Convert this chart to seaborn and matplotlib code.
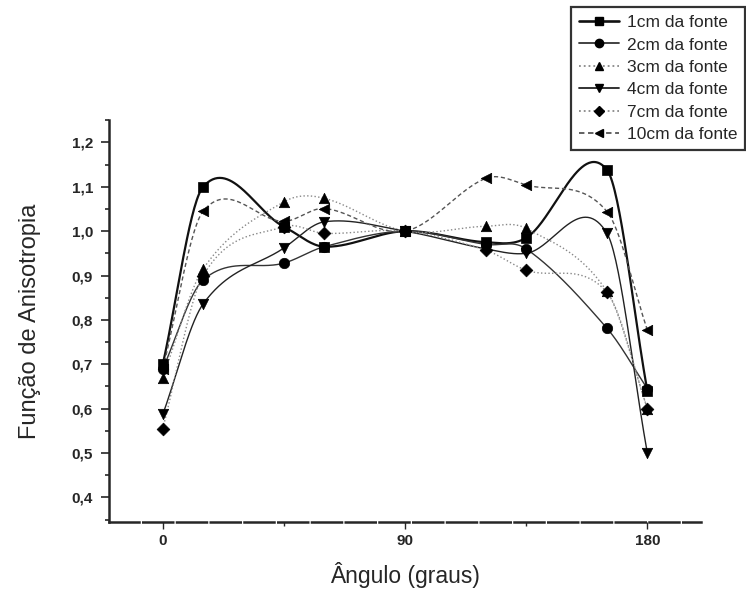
import numpy as np
import pandas as pd
import matplotlib
matplotlib.use("Agg")
import matplotlib.pyplot as plt
import seaborn as sns
from matplotlib.ticker import FuncFormatter, MultipleLocator, FixedLocator
from matplotlib.lines import Line2D

# ---- data ----
angles = [0, 15, 45, 60, 90, 120, 135, 165, 180]
labels = ["1cm da fonte", "2cm da fonte", "3cm da fonte",
          "4cm da fonte", "7cm da fonte", "10cm da fonte"]
f_1cm = [0.70, 1.10, 1.01, 0.965, 1.00, 0.975, 0.985, 1.138, 0.64]
f_2cm = [0.69, 0.89, 0.928, 0.965, 1.00, 0.97, 0.96, 0.781, 0.645]
f_3cm = [0.67, 0.915, 1.066, 1.074, 1.00, 1.011, 1.006, 0.864, 0.60]
f_4cm = [0.587, 0.836, 0.962, 1.021, 1.00, 0.96, 0.95, 0.995, 0.50]
f_7cm = [0.555, 0.90, 1.01, 0.995, 1.00, 0.957, 0.912, 0.862, 0.60]
f_10cm = [0.69, 1.045, 1.022, 1.051, 1.00, 1.119, 1.104, 1.044, 0.777]
series = [f_1cm, f_2cm, f_3cm, f_4cm, f_7cm, f_10cm]

markers = ["s", "o", "^", "v", "D", "<"]
msizes = [7.5, 7.5, 7.5, 7.5, 6.5, 7.5]
colors = ["#111111", "#333333", "#888888", "#222222", "#888888", "#555555"]
lstyles = ["-", "-", ":", "-", ":", (0, (3, 2))]
lwidths = [1.6, 1.0, 1.0, 1.0, 1.0, 1.0]


def smooth_curve(x, y, num=400):
    """Cubic Hermite (Catmull-Rom style) curve through the data points."""
    x = np.asarray(x, float)
    y = np.asarray(y, float)
    n = len(x)
    m = np.zeros(n)
    m[0] = (y[1] - y[0]) / (x[1] - x[0])
    m[-1] = (y[-1] - y[-2]) / (x[-1] - x[-2])
    m[1:-1] = (y[2:] - y[:-2]) / (x[2:] - x[:-2])
    xs = np.linspace(x[0], x[-1], num)
    idx = np.clip(np.searchsorted(x, xs) - 1, 0, n - 2)
    h = x[idx + 1] - x[idx]
    t = (xs - x[idx]) / h
    h00 = 2 * t ** 3 - 3 * t ** 2 + 1
    h10 = t ** 3 - 2 * t ** 2 + t
    h01 = -2 * t ** 3 + 3 * t ** 2
    h11 = t ** 3 - t ** 2
    ys = h00 * y[idx] + h10 * h * m[idx] + h01 * y[idx + 1] + h11 * h * m[idx + 1]
    return xs, ys


sns.set_style("ticks")
plt.rcParams["font.family"] = ["Liberation Sans", "DejaVu Sans"]

fig = plt.figure(figsize=(7.46, 5.95), dpi=100)
ax = fig.add_axes([0.146, 0.123, 0.794, 0.675])

handles = []
for lab, vals, mk, ms, c, ls, lw in zip(labels, series, markers, msizes, colors, lstyles, lwidths):
    xs, ys = smooth_curve(angles, vals)
    curve = pd.DataFrame({"x": xs, "y": ys})
    sns.lineplot(data=curve, x="x", y="y", ax=ax, color=c, linestyle=ls,
                 linewidth=lw, estimator=None, sort=False)
    pts = pd.DataFrame({"x": angles, "y": vals})
    sns.scatterplot(data=pts, x="x", y="y", ax=ax, marker=mk, s=ms ** 2,
                    color="black", edgecolor="black", linewidth=0.5, zorder=5)
    handles.append(Line2D([], [], color=c, linestyle=ls, linewidth=lw + 0.3,
                          marker=mk, markersize=ms - 1.5, markerfacecolor="black",
                          markeredgecolor="black", label=lab))

ax.set_xlim(-20, 200)
ax.set_ylim(0.345, 1.25)
ax.xaxis.set_major_locator(FixedLocator([0, 90, 180]))
ax.xaxis.set_minor_locator(FixedLocator([45, 135]))
ax.yaxis.set_major_locator(MultipleLocator(0.1))
ax.yaxis.set_minor_locator(MultipleLocator(0.05))
ax.yaxis.set_major_formatter(FuncFormatter(lambda v, p: f"{v:.1f}".replace(".", ",")))
ax.xaxis.set_major_formatter(FuncFormatter(lambda v, p: f"{v:.0f}"))

ax.tick_params(axis="y", which="major", length=5.5, width=1.2, labelsize=11,
               direction="out", pad=6)
ax.tick_params(axis="y", which="minor", length=3, width=1.2, direction="out")
ax.tick_params(axis="x", which="major", length=5, width=1, labelsize=11, direction="out")
ax.tick_params(axis="x", which="minor", length=3, width=1, direction="out")
for t in ax.get_yticklabels() + ax.get_xticklabels():
    t.set_fontweight("bold")

sns.despine(ax=ax, top=True, right=True)
ax.spines["left"].set_linewidth(1.8)
ax.spines["bottom"].set_linewidth(1.8)
ax.spines["bottom"].set_linestyle((0, (12, 1.5)))

ax.set_xlabel("Ângulo (graus)", fontsize=16.5, labelpad=10)
ax.set_ylabel("Função de Anisotropia", fontsize=17, labelpad=22)

leg = fig.legend(handles=handles, loc="upper right", bbox_to_anchor=(0.999, 0.988),
                 fontsize=12.5, frameon=True, fancybox=False, handlelength=2.3,
                 handletextpad=0.45, labelspacing=0.42, borderpad=0.45,
                 borderaxespad=0.0)
leg.get_frame().set_edgecolor("black")
leg.get_frame().set_linewidth(1.6)

fig.savefig("out.png", dpi=100)
